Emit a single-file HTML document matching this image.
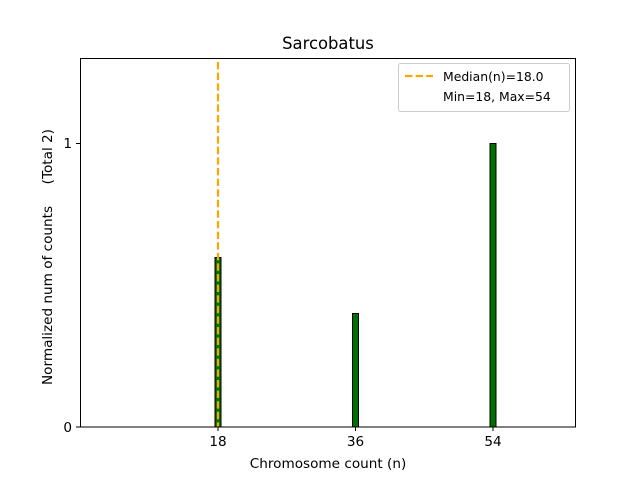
<!DOCTYPE html>
<html><head><style>body{margin:0;background:#fff}svg{display:block}text{font-family:"DejaVu Sans","Liberation Sans",sans-serif;fill:#000}</style></head><body>
<svg width="640" height="480" viewBox="0 0 640 480" xmlns="http://www.w3.org/2000/svg">
<rect width="640" height="480" fill="#fff"/>
<text x="328" y="49" font-size="16.4" text-anchor="middle">Sarcobatus</text>
<rect x="215" y="257.5" width="6" height="169.5" fill="#007000" stroke="#000" stroke-width="1"/>
<rect x="352.5" y="313.5" width="6" height="113.5" fill="#007000" stroke="#000" stroke-width="1"/>
<rect x="490" y="143.5" width="6" height="283.5" fill="#007000" stroke="#000" stroke-width="1"/>
<line x1="218" y1="62" x2="218" y2="427" stroke="#ffa500" stroke-width="2.2" stroke-dasharray="7.4,3.2"/>
<rect x="80.5" y="58.5" width="495" height="368.5" fill="none" stroke="#000" stroke-width="1"/>
<g stroke="#000" stroke-width="1">
<line x1="218" y1="427" x2="218" y2="431"/><line x1="355.5" y1="427" x2="355.5" y2="431"/><line x1="493" y1="427" x2="493" y2="431"/>
<line x1="76" y1="427" x2="80" y2="427"/><line x1="76" y1="143.5" x2="80" y2="143.5"/>
</g>
<g font-size="13.6" text-anchor="middle">
<text x="218" y="446">18</text><text x="355.5" y="446">36</text><text x="493" y="446">54</text>
<text x="328" y="468">Chromosome count (n)</text>
</g>
<g font-size="13.6" text-anchor="end">
<text x="72" y="432">0</text><text x="72" y="148">1</text>
</g>
<text transform="translate(52,257) rotate(-90)" font-size="13.6" text-anchor="middle" xml:space="preserve" style="white-space:pre">Normalized num of counts     (Total 2)</text>
<rect x="398.5" y="63.5" width="171" height="48" rx="2" fill="#fff" stroke="#ccc" stroke-width="1"/>
<line x1="405" y1="76" x2="433" y2="76" stroke="#ffa500" stroke-width="2.2" stroke-dasharray="7.4,3.2"/>
<text x="443" y="81" font-size="12.4">Median(n)=18.0</text>
<text x="443" y="101" font-size="12.4">Min=18, Max=54</text>
</svg>
</body></html>
